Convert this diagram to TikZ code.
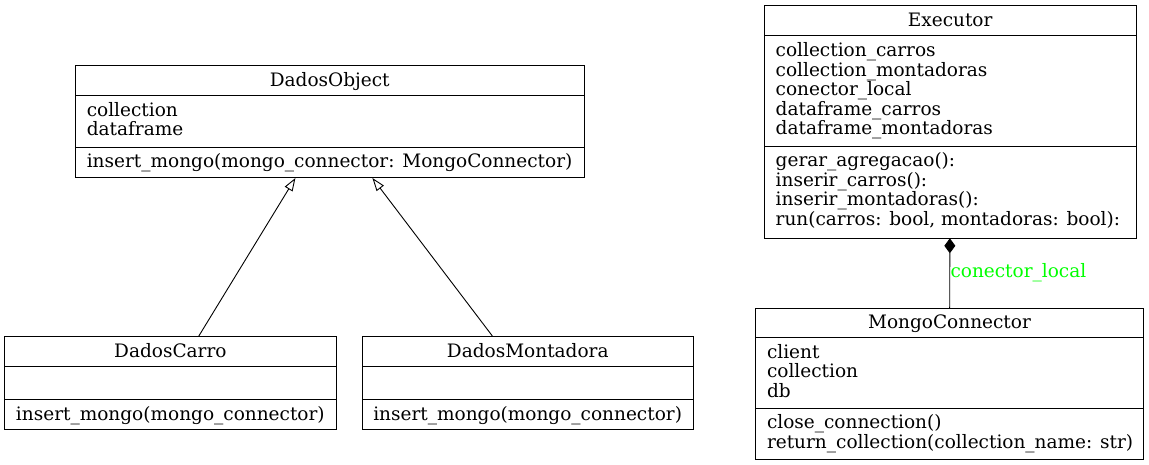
\documentclass[tikz,border=0pt]{standalone}
\usepackage{fontspec}
\setmainfont{DejaVu Serif}
\usetikzlibrary{arrows.meta}
\definecolor{lblgreen}{RGB}{0,255,0}
\begin{document}
\begin{tikzpicture}[x=1pt,y=-1pt,
  font=\fontsize{18.5}{19.5}\selectfont,
  cls/.style={draw, line width=1pt, inner sep=0pt, outer sep=0pt, rectangle},
  sepline/.style={line width=1pt},
  txt/.style={inner sep=0pt, outer sep=0pt, anchor=base west},
  ttl/.style={inner sep=0pt, outer sep=0pt, anchor=base},
  inh/.style={line width=0.9pt, -{Triangle[open,length=13pt,width=9pt]}},
  comp/.style={line width=0.9pt, {Diamond[length=15pt,width=11pt]}-}]
\useasboundingbox (0,0) rectangle (1149,465);

% DadosObject
\node[cls, minimum width=508.5pt, minimum height=112.5pt] (obj) at (329.75,121.75) {};
\draw[sepline] (obj.west |- 0,96) -- (obj.east |- 0,96);
\draw[sepline] (obj.west |- 0,147.5) -- (obj.east |- 0,147.5);
\node[ttl] (objt) at (329.75,87) {DadosObject};
\node[txt] (obja1) at (86.8,116.5) {collection};
\node[txt] (obja2) at (86.8,136) {dataframe};
\node[txt] (objm1) at (86.8,167.5) {insert\_mongo(mongo\_connector: MongoConnector)};

% DadosCarro
\node[cls, minimum width=331.3pt, minimum height=93.3pt] (carro) at (170.35,382.65) {};
\draw[sepline] (carro.west |- 0,366) -- (carro.east |- 0,366);
\draw[sepline] (carro.west |- 0,399) -- (carro.east |- 0,399);
\node[ttl] (carrot) at (170.35,357.2) {DadosCarro};
\node[txt] (carrom1) at (16,420) {insert\_mongo(mongo\_connector)};

% DadosMontadora
\node[cls, minimum width=331.5pt, minimum height=93.3pt] (mont) at (527.75,382.65) {};
\draw[sepline] (mont.west |- 0,366) -- (mont.east |- 0,366);
\draw[sepline] (mont.west |- 0,399) -- (mont.east |- 0,399);
\node[ttl] (montt) at (527.75,357.2) {DadosMontadora};
\node[txt] (montm1) at (373.3,420) {insert\_mongo(mongo\_connector)};

% Executor
\node[cls, minimum width=371.7pt, minimum height=232.3pt] (exec) at (950.15,122.15) {};
\draw[sepline] (exec.west |- 0,36) -- (exec.east |- 0,36);
\draw[sepline] (exec.west |- 0,146.7) -- (exec.east |- 0,146.7);
\node[ttl] (exect) at (950.15,26.5) {Executor};
\node[txt] (execa1) at (775.7,57) {collection\_carros};
\node[txt] (execa2) at (775.7,76.5) {collection\_montadoras};
\node[txt] (execa3) at (775.7,96) {conector\_local};
\node[txt] (execa4) at (775.7,115.5) {dataframe\_carros};
\node[txt] (execa5) at (775.7,135) {dataframe\_montadoras};
\node[txt] (execm1) at (775.7,167) {gerar\_agregacao():};
\node[txt] (execm2) at (775.7,186.5) {inserir\_carros():};
\node[txt] (execm3) at (775.7,206) {inserir\_montadoras():};
\node[txt] (execm4) at (775.7,225.5) {run(carros: bool, montadoras: bool):};

% MongoConnector
\node[cls, minimum width=388pt, minimum height=150.7pt] (mongo) at (949.5,383.65) {};
\draw[sepline] (mongo.west |- 0,337.7) -- (mongo.east |- 0,337.7);
\draw[sepline] (mongo.west |- 0,408.3) -- (mongo.east |- 0,408.3);
\node[ttl] (mongot) at (949.5,328) {MongoConnector};
\node[txt] (mongoa1) at (767,358) {client};
\node[txt] (mongoa2) at (767,377.5) {collection};
\node[txt] (mongoa3) at (767,397) {db};
\node[txt] (mongom1) at (767,428.8) {close\_connection()};
\node[txt] (mongom2) at (767,448.3) {return\_collection(collection\_name: str)};

% connectors
\draw[inh] (carro) -- (obj);
\draw[inh] (mont) -- (obj);
\draw[comp] (exec) -- (mongo);
\node[txt, text=lblgreen] (lbl) at (950.5,277.5) {conector\_local};
\end{tikzpicture}
\end{document}
